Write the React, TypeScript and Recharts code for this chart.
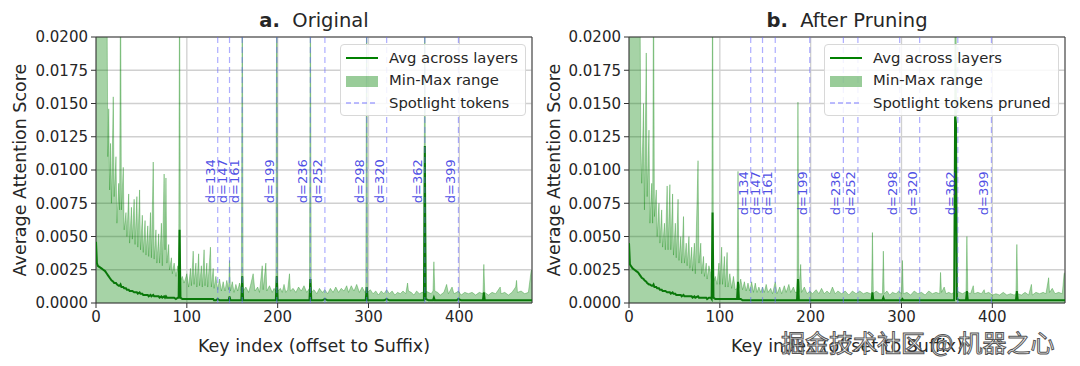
import React from 'react';
import {
  ComposedChart,
  Area,
  Line,
  XAxis,
  YAxis,
  CartesianGrid,
  ReferenceLine,
  ReferenceArea,
  Legend,
} from 'recharts';

const FONT = '"DejaVu Sans", Verdana, sans-serif';

const xTicks = [0, 100, 200, 300, 400];
const yTicks = [0, 0.0025, 0.005, 0.0075, 0.01, 0.0125, 0.015, 0.0175, 0.02];
const spotlight = [134, 147, 161, 199, 236, 252, 298, 320, 362, 399];

// a. Original: key index, max across layers, avg across layers
const keyA = [
  0, 1, 2, 4, 6, 8, 10, 12, 13, 14, 15, 16, 17, 19, 20, 22, 23, 25, 26, 27,
  28, 30, 31, 33, 34, 36, 37, 39, 40, 42, 43, 45, 46, 48, 49,
  51, 52, 54, 55, 57, 58, 60, 61, 63, 64, 66, 67, 69, 70, 72, 73,
  75, 76, 77, 78, 80, 81, 83, 84, 86, 88, 90, 91, 92, 93, 95, 97,
  100, 102, 104, 105, 107, 108, 110, 111, 113, 114, 116, 117, 119, 120, 122, 123, 126, 127, 129, 130,
  132, 134, 136, 138, 140, 142, 144, 146, 147, 148, 150, 152, 154, 156, 158, 160, 161, 162,
  165, 168, 170, 173, 175, 178, 180, 183, 184, 187, 188, 191, 194, 196, 198, 199, 200,
  203, 205, 207, 209, 211, 213, 214, 217, 220, 223, 226, 229, 232, 235, 236, 237,
  240, 243, 246, 249, 252, 255, 258, 261, 264, 267, 270, 273, 276, 278, 281, 284, 287, 290, 293, 296, 297, 298, 299,
  302, 305, 308, 311, 314, 317, 320, 323, 326, 329, 332, 335, 338, 341, 343, 344, 347, 350, 353, 356, 359, 361, 362, 363,
  366, 369, 371, 372, 373, 376, 379, 383, 386, 388, 392, 394, 397, 399, 402, 406, 410, 414, 418, 422, 426, 427, 428,
  432, 436, 440, 445, 446, 450, 454, 458, 462, 463, 464, 468, 472, 476, 479, 480,
];
const maxA = [
  0.025, 0.025, 0.025, 0.025, 0.025, 0.025, 0.025, 0.025, 0.011, 0.0146, 0.0085, 0.012, 0.0075, 0.0155, 0.008, 0.011, 0.006, 0.009, 0.007, 0.025,
  0.007, 0.0102, 0.0055, 0.0068, 0.005, 0.0082, 0.0045, 0.0072, 0.0048, 0.0078, 0.0044, 0.008, 0.0042, 0.0085, 0.004,
  0.0066, 0.0038, 0.0062, 0.0036, 0.0058, 0.0035, 0.0068, 0.0034, 0.0106, 0.0033, 0.0055, 0.003, 0.0052, 0.003, 0.006, 0.0028,
  0.0097, 0.004, 0.0094, 0.003, 0.0044, 0.0025, 0.0034, 0.0022, 0.003, 0.002, 0.0028, 0.0018, 0.025, 0.0017, 0.002, 0.0015,
  0.0022, 0.0012, 0.0026, 0.0013, 0.0039, 0.0014, 0.003, 0.0012, 0.0037, 0.0013, 0.0028, 0.0012, 0.004, 0.0013, 0.003, 0.0012, 0.0042, 0.0012, 0.0026, 0.0011,
  0.002, 0.001, 0.0018, 0.0009, 0.0016, 0.0009, 0.0017, 0.001, 0.0032, 0.0009, 0.0016, 0.0008, 0.0014, 0.0009, 0.0015, 0.0009, 0.025, 0.0009,
  0.0012, 0.0008, 0.0013, 0.0022, 0.0009, 0.0012, 0.0008, 0.0028, 0.001, 0.003, 0.0009, 0.0013, 0.0008, 0.0011, 0.0009, 0.025, 0.0009,
  0.0011, 0.0008, 0.0014, 0.0008, 0.001, 0.0022, 0.0009, 0.0011, 0.0008, 0.0012, 0.0009, 0.0013, 0.0008, 0.0011, 0.025, 0.0008,
  0.001, 0.0007, 0.0011, 0.0008, 0.001, 0.0007, 0.0011, 0.0008, 0.0012, 0.0008, 0.0011, 0.0009, 0.0013, 0.0008, 0.0013, 0.0009, 0.0014, 0.0008, 0.0012, 0.0008, 0.0009, 0.025, 0.0008,
  0.001, 0.0007, 0.0009, 0.0006, 0.0009, 0.0007, 0.001, 0.0007, 0.0009, 0.0006, 0.0008, 0.0007, 0.0009, 0.0007, 0.0015, 0.0009, 0.0008, 0.0006, 0.0009, 0.0007, 0.0008, 0.0008, 0.025, 0.0009,
  0.0008, 0.0007, 0.0009, 0.0031, 0.0009, 0.0008, 0.0006, 0.0008, 0.0014, 0.0007, 0.0012, 0.0007, 0.0008, 0.0009, 0.0006, 0.0008, 0.0007, 0.0008, 0.0006, 0.0008, 0.0007, 0.0029, 0.0008,
  0.0006, 0.0008, 0.0007, 0.0012, 0.0007, 0.0008, 0.0006, 0.0008, 0.0012, 0.0017, 0.0008, 0.0009, 0.0007, 0.0008, 0.0024, 0.0025,
];
const avgA = [
  0.0046, 0.003, 0.0028, 0.0027, 0.0026, 0.0025, 0.0024, 0.0022, 0.0021, 0.002, 0.0019, 0.0018, 0.0017, 0.0016, 0.0015, 0.0015, 0.0014, 0.0013, 0.0013, 0.0014,
  0.0012, 0.0012, 0.0011, 0.0011, 0.001, 0.001, 0.0009, 0.0009, 0.0009, 0.0008, 0.0008, 0.0008, 0.0007, 0.0008, 0.0007,
  0.0007, 0.0006, 0.0006, 0.0006, 0.0006, 0.0005, 0.0006, 0.0005, 0.0006, 0.0005, 0.0005, 0.0005, 0.0005, 0.0004, 0.0005, 0.0004,
  0.0005, 0.0004, 0.0005, 0.0004, 0.0004, 0.0004, 0.0004, 0.0004, 0.0004, 0.0003, 0.0004, 0.0004, 0.0055, 0.0004, 0.0003, 0.0003,
  0.0003, 0.0003, 0.0003, 0.0003, 0.0003, 0.0003, 0.0003, 0.0003, 0.0003, 0.0003, 0.0003, 0.0003, 0.0003, 0.0003, 0.0003, 0.0003, 0.0003, 0.0003, 0.0003, 0.0002,
  0.0002, 0.0003, 0.0002, 0.0002, 0.0002, 0.0002, 0.0002, 0.0002, 0.0005, 0.0002, 0.0002, 0.0002, 0.0002, 0.0002, 0.0002, 0.0002, 0.002, 0.0002,
  0.0002, 0.0002, 0.0002, 0.0002, 0.0002, 0.0002, 0.0002, 0.0002, 0.0002, 0.0002, 0.0002, 0.0002, 0.0002, 0.0002, 0.0002, 0.002, 0.0002,
  0.0002, 0.0002, 0.0002, 0.0002, 0.0002, 0.0002, 0.0002, 0.0002, 0.0002, 0.0002, 0.0002, 0.0002, 0.0002, 0.0002, 0.0018, 0.0002,
  0.0002, 0.0002, 0.0002, 0.0002, 0.0003, 0.0002, 0.0002, 0.0002, 0.0002, 0.0002, 0.0002, 0.0002, 0.0002, 0.0002, 0.0002, 0.0002, 0.0002, 0.0002, 0.0002, 0.0002, 0.0002, 0.0012, 0.0002,
  0.0002, 0.0002, 0.0002, 0.0002, 0.0002, 0.0002, 0.0003, 0.0002, 0.0002, 0.0002, 0.0002, 0.0002, 0.0002, 0.0002, 0.0002, 0.0002, 0.0002, 0.0002, 0.0002, 0.0002, 0.0002, 0.0002, 0.0118, 0.0003,
  0.0002, 0.0002, 0.0002, 0.0004, 0.0002, 0.0002, 0.0002, 0.0002, 0.0002, 0.0002, 0.0002, 0.0002, 0.0002, 0.0003, 0.0002, 0.0002, 0.0002, 0.0002, 0.0002, 0.0002, 0.0002, 0.0008, 0.0002,
  0.0002, 0.0002, 0.0002, 0.0002, 0.0002, 0.0002, 0.0002, 0.0002, 0.0002, 0.0002, 0.0002, 0.0002, 0.0002, 0.0002, 0.0002, 0.0002,
];

// b. After Pruning
const keyB = [
  0, 1, 2, 4, 6, 8, 10, 12, 13, 14, 16, 17, 19, 20, 22, 23, 25, 26, 27,
  28, 30, 31, 33, 34, 36, 37, 39, 40, 42, 43, 45, 46, 48, 49,
  51, 52, 54, 55, 57, 58, 60, 61, 63, 64, 66, 67, 69, 70, 72, 73,
  76, 77, 79, 80, 82, 83, 85, 86, 88, 90, 91, 92, 93, 95, 97,
  99, 100, 102, 103, 105, 106, 108, 109, 111, 113, 115, 117, 119, 120, 121,
  123, 125, 127, 129, 131, 133, 135, 137, 139, 141, 143, 145, 147, 149, 151, 153, 156, 158, 161, 163,
  166, 168, 171, 173, 176, 178, 181, 183, 185, 186, 187,
  189, 190, 193, 196, 199, 202, 206, 209, 212, 215, 218, 221, 224, 227, 230, 234, 238, 242, 246, 250, 254, 258, 262, 266, 267, 268, 269,
  272, 276, 279, 280, 281, 284, 287, 290, 294, 297, 300, 301, 302,
  306, 310, 314, 318, 322, 326, 330, 334, 338, 342, 343, 344, 347, 349, 352, 355, 358, 359, 360, 361,
  364, 367, 370, 371, 372, 373, 376, 379, 380, 384, 388, 391, 392, 396, 400, 404, 408, 412, 416, 420, 424, 426, 427, 428,
  432, 436, 440, 443, 444, 448, 452, 456, 459, 462, 463, 466, 469, 473, 477, 479, 480,
];
const maxB = [
  0.025, 0.025, 0.025, 0.025, 0.025, 0.025, 0.025, 0.025, 0.012, 0.009, 0.015, 0.007, 0.0188, 0.008, 0.013, 0.006, 0.009, 0.006, 0.025,
  0.0065, 0.0085, 0.005, 0.0075, 0.0045, 0.007, 0.0042, 0.006, 0.004, 0.0088, 0.004, 0.0089, 0.004, 0.0082, 0.0036,
  0.006, 0.0034, 0.0078, 0.0032, 0.005, 0.003, 0.0065, 0.003, 0.0045, 0.0028, 0.005, 0.0026, 0.0042, 0.0024, 0.0045, 0.0022,
  0.0107, 0.003, 0.0045, 0.0022, 0.0035, 0.002, 0.003, 0.0018, 0.0028, 0.0022, 0.0016, 0.025, 0.0016, 0.002, 0.0014,
  0.003, 0.0014, 0.0042, 0.0014, 0.0035, 0.0012, 0.0038, 0.0012, 0.0022, 0.0011, 0.002, 0.001, 0.0011, 0.0099, 0.0011,
  0.0018, 0.001, 0.0016, 0.0009, 0.0015, 0.0009, 0.0016, 0.0008, 0.0015, 0.0008, 0.0012, 0.0008, 0.0012, 0.0008, 0.0014, 0.0008, 0.0011, 0.0007, 0.0016, 0.0007,
  0.0012, 0.0007, 0.0013, 0.0008, 0.0014, 0.0008, 0.0012, 0.0008, 0.0008, 0.0151, 0.0008,
  0.0029, 0.0008, 0.0012, 0.0007, 0.0009, 0.0007, 0.001, 0.0007, 0.0011, 0.0007, 0.0009, 0.0007, 0.0012, 0.0007, 0.0009, 0.0007, 0.0009, 0.0006, 0.0009, 0.0007, 0.0009, 0.0007, 0.0008, 0.0007, 0.0007, 0.0053, 0.0007,
  0.0009, 0.0007, 0.0007, 0.0039, 0.0007, 0.0009, 0.0006, 0.0008, 0.0007, 0.0009, 0.0007, 0.0032, 0.0007,
  0.0008, 0.0006, 0.0009, 0.0007, 0.0008, 0.0006, 0.0009, 0.0007, 0.0008, 0.0007, 0.0023, 0.0008, 0.0012, 0.0007, 0.0008, 0.0007, 0.0008, 0.025, 0.025, 0.0009,
  0.0008, 0.0007, 0.0008, 0.0008, 0.005, 0.0008, 0.0007, 0.0013, 0.0007, 0.0008, 0.0007, 0.001, 0.0007, 0.0008, 0.0006, 0.0007, 0.0006, 0.0008, 0.0006, 0.0007, 0.0006, 0.0007, 0.0044, 0.0007,
  0.0006, 0.0008, 0.0006, 0.0014, 0.0006, 0.0008, 0.0007, 0.0008, 0.0007, 0.0019, 0.0008, 0.0011, 0.0007, 0.0008, 0.0007, 0.0022, 0.0023,
];
const avgB = [
  0.0045, 0.0029, 0.0028, 0.0026, 0.0025, 0.0024, 0.0023, 0.0021, 0.002, 0.0019, 0.0018, 0.0017, 0.0016, 0.0015, 0.0014, 0.0014, 0.0013, 0.0013, 0.0014,
  0.0012, 0.0012, 0.0011, 0.0011, 0.001, 0.001, 0.0009, 0.0009, 0.0009, 0.0008, 0.0008, 0.0008, 0.0007, 0.0008, 0.0007,
  0.0007, 0.0006, 0.0006, 0.0006, 0.0006, 0.0005, 0.0006, 0.0005, 0.0005, 0.0005, 0.0005, 0.0005, 0.0005, 0.0004, 0.0005, 0.0004,
  0.0005, 0.0004, 0.0004, 0.0004, 0.0004, 0.0004, 0.0004, 0.0003, 0.0004, 0.0004, 0.0003, 0.0068, 0.0004, 0.0003, 0.0003,
  0.0003, 0.0003, 0.0003, 0.0003, 0.0003, 0.0003, 0.0003, 0.0003, 0.0003, 0.0003, 0.0003, 0.0003, 0.0003, 0.0016, 0.0003,
  0.0003, 0.0002, 0.0002, 0.0002, 0.0002, 0.0002, 0.0002, 0.0002, 0.0002, 0.0002, 0.0002, 0.0002, 0.0002, 0.0002, 0.0002, 0.0002, 0.0002, 0.0002, 0.0002, 0.0002,
  0.0002, 0.0002, 0.0002, 0.0002, 0.0002, 0.0002, 0.0002, 0.0002, 0.0002, 0.0018, 0.0002,
  0.0002, 0.0002, 0.0002, 0.0002, 0.0002, 0.0002, 0.0002, 0.0002, 0.0002, 0.0002, 0.0002, 0.0002, 0.0002, 0.0002, 0.0002, 0.0002, 0.0002, 0.0002, 0.0002, 0.0002, 0.0002, 0.0002, 0.0002, 0.0002, 0.0002, 0.0008, 0.0002,
  0.0002, 0.0002, 0.0002, 0.0004, 0.0002, 0.0002, 0.0002, 0.0002, 0.0002, 0.0002, 0.0002, 0.0003, 0.0002,
  0.0002, 0.0002, 0.0002, 0.0002, 0.0002, 0.0002, 0.0002, 0.0002, 0.0002, 0.0002, 0.0002, 0.0002, 0.0002, 0.0002, 0.0002, 0.0002, 0.0002, 0.014, 0.0135, 0.0003,
  0.0002, 0.0002, 0.0002, 0.0002, 0.0009, 0.0002, 0.0002, 0.0002, 0.0002, 0.0002, 0.0002, 0.0002, 0.0002, 0.0002, 0.0002, 0.0002, 0.0002, 0.0002, 0.0002, 0.0002, 0.0002, 0.0002, 0.0009, 0.0002,
  0.0002, 0.0002, 0.0002, 0.0002, 0.0002, 0.0002, 0.0002, 0.0002, 0.0002, 0.0002, 0.0002, 0.0002, 0.0002, 0.0002, 0.0002, 0.0002, 0.0002,
];

const GREEN = '#008000';
const SPOT = '#6a6aff';
const TEXT = '#262626';

function SpotLabel(props: any) {
  const { viewBox, text, level } = props;
  if (!viewBox) return null;
  const x = viewBox.x - 3;
  const y = viewBox.y + viewBox.height * (1 - level / 0.02);
  return (
    <text
      x={x}
      y={y}
      transform={`rotate(-90 ${x} ${y})`}
      fill="#3030e0"
      fillOpacity={0.85}
      fontSize={13}
      fontFamily={FONT}
    >
      {text}
    </text>
  );
}

function LegendBox({ spotText }: { spotText: string }) {
  const row: React.CSSProperties = { display: 'flex', alignItems: 'center', height: 22.5 };
  return (
    <div
      style={{
        width: '100%',
        height: '100%',
        boxSizing: 'border-box',
        background: 'rgba(255,255,255,0.85)',
        border: '1px solid #d8d8d8',
        borderRadius: 4,
        fontFamily: FONT,
        fontSize: 14.8,
        color: TEXT,
        padding: '2px 0 0 5px',
        lineHeight: 1,
      }}
    >
      <div style={row}>
        <svg width={32} height={12}>
          <line x1={0} y1={6} x2={32} y2={6} stroke={GREEN} strokeWidth={2} />
        </svg>
        <span style={{ marginLeft: 11 }}>Avg across layers</span>
      </div>
      <div style={row}>
        <svg width={32} height={12}>
          <rect x={0} y={1} width={32} height={11} fill={GREEN} fillOpacity={0.4} />
        </svg>
        <span style={{ marginLeft: 11 }}>Min-Max range</span>
      </div>
      <div style={row}>
        <svg width={32} height={12}>
          <line x1={0} y1={6} x2={32} y2={6} stroke={SPOT} strokeOpacity={0.6} strokeWidth={1.3} strokeDasharray="5 3" />
        </svg>
        <span style={{ marginLeft: 11 }}>{spotText}</span>
      </div>
    </div>
  );
}

interface PanelProps {
  letter: string;
  title: string;
  keys: number[];
  max: number[];
  avg: number[];
  spotText: string;
  yWidth: number;
  right: number;
  labelLevel: number;
  yLabelOffset: number;
  legendLeft: number;
  legendWidth: number;
}

function Panel(p: PanelProps) {
  const rows = p.keys.map((k, i) => ({ k, max: p.max[i], avg: p.avg[i] }));
  const plotLeft = p.yWidth;
  const plotWidth = 540 - p.right - p.yWidth;
  const tick = { fontSize: 15, fill: TEXT, fontFamily: FONT };
  return (
    <div style={{ position: 'relative', width: 540, height: 366 }}>
      <div
        style={{
          position: 'absolute',
          left: plotLeft,
          width: plotWidth,
          top: 9,
          textAlign: 'center',
          fontFamily: FONT,
          fontSize: 19.5,
          lineHeight: '24px',
          color: TEXT,
        }}
      >
        <b>{p.letter}</b>&nbsp; {p.title}
      </div>
      <ComposedChart
        width={540}
        height={366}
        data={rows}
        margin={{ top: 37, right: p.right, bottom: 0, left: 0 }}
      >
        <CartesianGrid stroke="#d0d0d0" strokeWidth={1.3} />
        <XAxis
          dataKey="k"
          type="number"
          domain={[0, 480]}
          ticks={xTicks}
          allowDataOverflow
          height={63}
          axisLine={false}
          tickLine={{ stroke: '#333' }}
          tickSize={5}
          tickMargin={3}
          tick={tick}
          label={{
            value: 'Key index (offset to Suffix)',
            position: 'insideBottom',
            offset: 14,
            fontSize: 17.5,
            fill: TEXT,
            fontFamily: FONT,
          }}
        />
        <YAxis
          type="number"
          domain={[0, 0.02]}
          ticks={yTicks}
          allowDataOverflow
          width={p.yWidth}
          axisLine={false}
          tickLine={{ stroke: '#333' }}
          tickSize={5}
          tickMargin={3}
          tick={tick}
          tickFormatter={(v: number) => v.toFixed(4)}
          label={{
            value: 'Average Attention Score',
            angle: -90,
            position: 'insideLeft',
            offset: p.yLabelOffset,
            fontSize: 17.5,
            fill: TEXT,
            fontFamily: FONT,
            style: { textAnchor: 'middle' },
          }}
        />
        <Area
          type="linear"
          dataKey="max"
          baseValue={0}
          fill={GREEN}
          fillOpacity={0.35}
          stroke={GREEN}
          strokeOpacity={0.3}
          strokeWidth={1}
          isAnimationActive={false}
          name="Min-Max range"
        />
        <Line
          type="linear"
          dataKey="avg"
          stroke="#0a780a"
          strokeWidth={2}
          dot={false}
          isAnimationActive={false}
          name="Avg across layers"
        />
        {spotlight.map((d) => (
          <ReferenceLine
            key={d}
            x={d}
            stroke={SPOT}
            strokeOpacity={0.55}
            strokeWidth={1.2}
            strokeDasharray="6 4"
            label={<SpotLabel text={`d=${d}`} level={p.labelLevel} />}
          />
        ))}
        <ReferenceArea x1={0} x2={480} y1={0} y2={0.02} fill="none" stroke="#3a3a3a" strokeWidth={1} />
        <Legend
          layout="horizontal"
          verticalAlign="middle"
          align="center"
          wrapperStyle={{ left: p.legendLeft, top: 44, width: p.legendWidth, height: 72 }}
          content={() => <LegendBox spotText={p.spotText} />}
        />
      </ComposedChart>
    </div>
  );
}

export default function App() {
  return (
    <div
      style={{
        position: 'absolute',
        left: 0,
        top: 0,
        width: 1080,
        height: 366,
        background: '#fff',
        display: 'flex',
        overflow: 'hidden',
      }}
    >
      <Panel
        letter="a."
        title="Original"
        keys={keyA}
        max={maxA}
        avg={avgA}
        spotText="Spotlight tokens"
        yWidth={96}
        right={8}
        labelLevel={0.0075}
        yLabelOffset={20}
        legendLeft={340}
        legendWidth={186}
      />
      <Panel
        letter="b."
        title="After Pruning"
        keys={keyB}
        max={maxB}
        avg={avgB}
        spotText="Spotlight tokens pruned"
        yWidth={89}
        right={15}
        labelLevel={0.0066}
        yLabelOffset={14}
        legendLeft={284}
        legendWidth={235}
      />
      <div
        style={{
          position: 'absolute',
          left: 781,
          top: 328,
          fontFamily: '"Noto Sans CJK SC", sans-serif',
          fontSize: 24,
          lineHeight: '28px',
          color: 'rgba(255,255,255,0.88)',
          WebkitTextStroke: '1px #555',
          whiteSpace: 'nowrap',
        }}
      >
        掘金技术社区 @ 机器之心
      </div>
    </div>
  );
}
